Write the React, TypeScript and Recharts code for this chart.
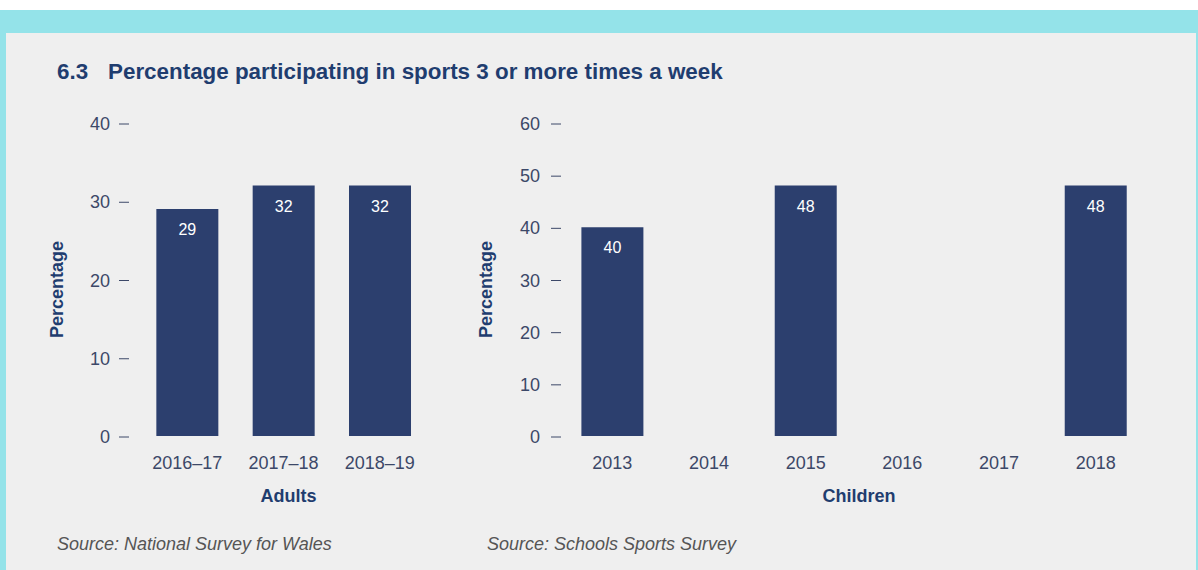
import { BarChart, Bar, XAxis, YAxis, LabelList } from 'recharts';

const ADULT_YEARS = ['2016–17', '2017–18', '2018–19'];
const ADULT_VALUES = [29, 32, 32];
const ADULT_TICKS = [0, 10, 20, 30, 40];

const CHILD_YEARS = ['2013', '2014', '2015', '2016', '2017', '2018'];
const CHILD_VALUES: (number | null)[] = [40, null, 48, null, null, 48];
const CHILD_TICKS = [0, 10, 20, 30, 40, 50, 60];

const FONT = '"Liberation Sans", Arial, sans-serif';
const BAR = '#2c3f6e';
const NAVY = '#1f3d6f';
const TICK = '#3c4868';

// y tick: value then a short dash, no axis line
const yTick = (labelGap: number, dashGap: number) => (props: any) => {
  const { x, y, payload } = props;
  return (
    <g>
      <text x={x - labelGap} y={y} dy={7} textAnchor="end" fontSize={18} fill={TICK} fontFamily={FONT}>
        {payload.value}
      </text>
      <line x1={x - dashGap} x2={x - dashGap + 10} y1={y + 1} y2={y + 1} stroke={TICK} strokeWidth={1} />
    </g>
  );
};

const xTick = (props: any) => {
  const { x, y, payload } = props;
  return (
    <text x={x} y={y} dy={33} textAnchor="middle" fontSize={18} fill={TICK} fontFamily={FONT}>
      {payload.value}
    </text>
  );
};

const xLabel = (text: string) => (props: any) => {
  const vb = props.viewBox;
  return (
    <text x={vb.x + vb.width / 2 + 5} y={vb.y + 66} textAnchor="middle" fontSize={18} fontWeight="bold" fill={NAVY} fontFamily={FONT}>
      {text}
    </text>
  );
};

const yLabel = (dx: number) => (props: any) => {
  const vb = props.viewBox;
  const cx = vb.x + dx;
  const cy = vb.y + vb.height / 2 + 10;
  return (
    <text x={cx} y={cy} transform={`rotate(-90 ${cx} ${cy})`} textAnchor="middle" fontSize={18} fontWeight="bold" fill={NAVY} fontFamily={FONT}>
      Percentage
    </text>
  );
};

const valueLabel = (props: any) => {
  const { x, y, width, value } = props;
  if (value == null) return null;
  return (
    <text x={x + width / 2} y={y + 26} textAnchor="middle" fontSize={16} fill="#ffffff" fontFamily={FONT}>
      {value}
    </text>
  );
};

export default function App() {
  const adults = ADULT_YEARS.map((year, i) => ({ year, value: ADULT_VALUES[i] }));
  const children = CHILD_YEARS.map((year, i) => ({ year, value: CHILD_VALUES[i] }));

  return (
    <div style={{ position: 'relative', width: 1198, height: 570, background: '#ffffff', overflow: 'hidden', fontFamily: FONT }}>
      <style>{'body{margin:0}'}</style>
      <div style={{ position: 'absolute', left: 0, top: 10, width: 1198, height: 560, background: '#94e3e9' }} />
      <div style={{ position: 'absolute', left: 6, top: 33, width: 1190, height: 537, background: '#efefef' }} />

      <div style={{ position: 'absolute', left: 57, top: 59, fontSize: 22.4, fontWeight: 'bold', color: NAVY, whiteSpace: 'nowrap' }}>
        6.3
      </div>
      <div style={{ position: 'absolute', left: 108, top: 59, fontSize: 22.4, fontWeight: 'bold', color: NAVY, whiteSpace: 'nowrap' }}>
        Percentage participating in sports 3 or more times a week
      </div>

      <div style={{ position: 'absolute', left: 40, top: 100 }}>
        <BarChart width={420} height={420} data={adults} margin={{ top: 23, right: 32, bottom: 0, left: 0 }} barCategoryGap="18%">
          <XAxis dataKey="year" axisLine={false} tickLine={false} tickSize={0} tickMargin={0} height={84} tick={xTick} interval={0} label={xLabel('Adults')} />
          <YAxis domain={[0, 40]} ticks={ADULT_TICKS} axisLine={false} tickLine={false} tickSize={0} tickMargin={0} width={99} tick={yTick(29, 20)} label={yLabel(23)} />
          <Bar dataKey="value" fill={BAR} isAnimationActive={false}>
            <LabelList dataKey="value" content={valueLabel} />
          </Bar>
        </BarChart>
      </div>

      <div style={{ position: 'absolute', left: 470, top: 100 }}>
        <BarChart width={700} height={420} data={children} margin={{ top: 23, right: 26, bottom: 0, left: 0 }} barCategoryGap="18%">
          <XAxis dataKey="year" axisLine={false} tickLine={false} tickSize={0} tickMargin={0} height={84} tick={xTick} interval={0} label={xLabel('Children')} />
          <YAxis domain={[0, 60]} ticks={CHILD_TICKS} axisLine={false} tickLine={false} tickSize={0} tickMargin={0} width={94} tick={yTick(24, 13)} label={yLabel(22)} />
          <Bar dataKey="value" fill={BAR} isAnimationActive={false}>
            <LabelList dataKey="value" content={valueLabel} />
          </Bar>
        </BarChart>
      </div>

      <div style={{ position: 'absolute', left: 57, top: 534, fontSize: 18, fontStyle: 'italic', color: '#555555', whiteSpace: 'nowrap' }}>
        Source: National Survey for Wales
      </div>
      <div style={{ position: 'absolute', left: 487, top: 534, fontSize: 18, fontStyle: 'italic', color: '#555555', whiteSpace: 'nowrap' }}>
        Source: Schools Sports Survey
      </div>
    </div>
  );
}
